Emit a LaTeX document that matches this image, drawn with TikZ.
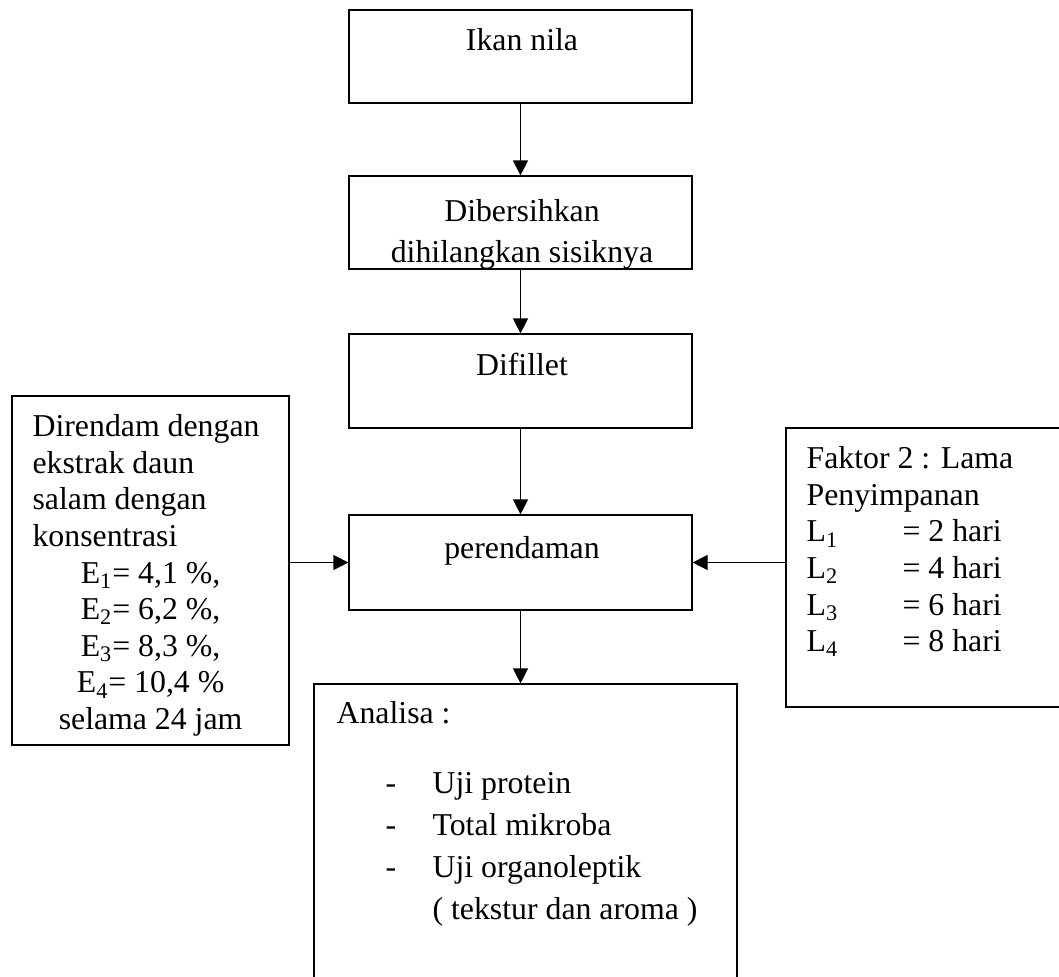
\documentclass[tikz,border=0pt]{standalone}
\usepackage{fontspec}
\setmainfont{Liberation Serif}
\usetikzlibrary{arrows.meta}

\begin{document}
\begin{tikzpicture}[x=0.5pt, y=-0.5pt, line width=0.6pt]
        \tikzstyle{box}=[draw, rectangle, inner sep=0pt]
        \tikzstyle{txt}=[inner sep=0pt, font=\fontsize{15.9}{18.3}\selectfont]
        \tikzstyle{arr}=[-{Triangle[length=7.5pt, width=7.5pt]}]
        \useasboundingbox (0,0) rectangle (1059,976);
        \clip (0,0) rectangle (1059,976);
        \node [box, minimum width=171.5pt, minimum height=46.5pt] (ikan) at (520.5,56.5) {};
        \node [box, minimum width=171.5pt, minimum height=46.5pt] (bersih) at (520.5,222.5) {};
        \node [box, minimum width=171.5pt, minimum height=47pt] (fillet) at (520.5,381) {};
        \node [box, minimum width=171.5pt, minimum height=47.5pt] (rendam) at (520.5,562.5) {};
        \node [box, minimum width=211.5pt, minimum height=158pt] (analisa) at (525.5,842) {};
        \node [box, minimum width=138.5pt, minimum height=174.5pt] (kiri) at (150.5,570.5) {};
        \node [box, minimum width=147pt, minimum height=139.5pt] (kanan) at (933,567.5) {};
        \node [txt, anchor=base] (ikantxt) at (522,50) {Ikan nila};
        \node [txt, anchor=north, align=center, font=\fontsize{15.9}{20.5}\selectfont] (bersihtxt) at (522,199) {Dibersihkan\\ dihilangkan sisiknya};
        \node [txt, anchor=base] (fillettxt) at (522,375) {Difillet};
        \node [txt, anchor=base] (rendamtxt) at (522,558) {perendaman};
        \node [txt, anchor=north west, align=left] (kiritxt) at (32,414) {Direndam dengan\\ ekstrak daun\\ salam dengan\\ konsentrasi\\
                \makebox[118pt]{E\textsubscript{1}= 4,1 \%,}\\ \makebox[118pt]{E\textsubscript{2}= 6,2 \%,}\\
                \makebox[118pt]{E\textsubscript{3}= 8,3 \%,}\\ \makebox[118pt]{E\textsubscript{4}= 10,4 \%}\\ \makebox[118pt]{selama 24 jam}};
        \node [txt, anchor=north west, align=left] (kanantxt) at (806,446) {Faktor 2 : Lama\\ Penyimpanan\\
                \makebox[48pt][l]{L\textsubscript{1}}= 2 hari\\ \makebox[48pt][l]{L\textsubscript{2}}= 4 hari\\
                \makebox[48pt][l]{L\textsubscript{3}}= 6 hari\\ \makebox[48pt][l]{L\textsubscript{4}}= 8 hari};
        \node [txt, anchor=north west, align=left, font=\fontsize{15.9}{21}\selectfont] (analisatxt) at (336,701) {Analisa :\\[14pt]
                \hspace*{24.5pt}\makebox[23.5pt][l]{-}Uji protein\\ \hspace*{24.5pt}\makebox[23.5pt][l]{-}Total mikroba\\
                \hspace*{24.5pt}\makebox[23.5pt][l]{-}Uji organoleptik\\ \hspace*{48pt}( tekstur dan aroma )};
        \draw [arr] (ikan) -- (bersih);
        \draw [arr] (bersih) -- (fillet);
        \draw [arr] (fillet) -- (rendam);
        \draw [arr] (rendam.south) -- (rendam.south |- analisa.north);
        \draw [arr] (kiri.east |- rendam.west) -- (rendam.west);
        \draw [arr] (kanan.west |- rendam.east) -- (rendam.east);
    \end{tikzpicture}
\end{document}
